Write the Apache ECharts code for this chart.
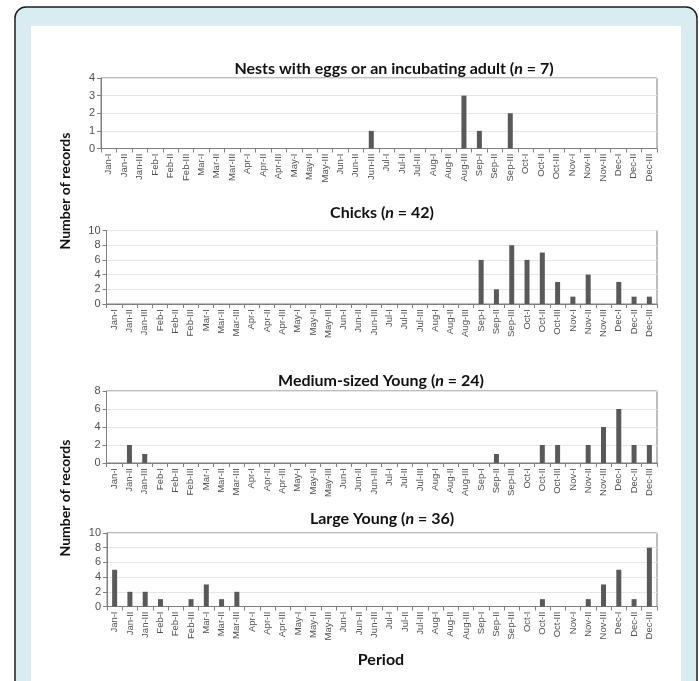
<!DOCTYPE html>
<html>
<head>
<meta charset="utf-8">
<script src="https://cdn.jsdelivr.net/npm/echarts@6/dist/echarts.min.js"></script>
<style>
  html, body { margin: 0; padding: 0; background: #ffffff; }
  #chart { width: 699px; height: 681px; }
</style>
</head>
<body>
<div id="chart"></div>
<script>
var categories = ['Jan-I','Jan-II','Jan-III','Feb-I','Feb-II','Feb-III','Mar-I','Mar-II','Mar-III',
  'Apr-I','Apr-II','Apr-III','May-I','May-II','May-III','Jun-I','Jun-II','Jun-III',
  'Jul-I','Jul-II','Jul-III','Aug-I','Aug-II','Aug-III','Sep-I','Sep-II','Sep-III',
  'Oct-I','Oct-II','Oct-III','Nov-I','Nov-II','Nov-III','Dec-I','Dec-II','Dec-III'];

var nestsValues  = [0,0,0, 0,0,0, 0,0,0, 0,0,0, 0,0,0, 0,0,1, 0,0,0, 0,0,3, 1,0,2, 0,0,0, 0,0,0, 0,0,0];
var chicksValues = [0,0,0, 0,0,0, 0,0,0, 0,0,0, 0,0,0, 0,0,0, 0,0,0, 0,0,0, 6,2,8, 6,7,3, 1,4,0, 3,1,1];
var mediumValues = [0,2,1, 0,0,0, 0,0,0, 0,0,0, 0,0,0, 0,0,0, 0,0,0, 0,0,0, 0,1,0, 0,2,2, 0,2,4, 6,2,2];
var largeValues  = [5,2,2, 1,0,1, 3,1,2, 0,0,0, 0,0,0, 0,0,0, 0,0,0, 0,0,0, 0,0,0, 0,1,0, 0,1,3, 5,1,8];

var panelTitles = [
  ['Nests with eggs or an incubating adult (', ' = 7)'],
  ['Chicks (', ' = 42)'],
  ['Medium-sized Young (', ' = 24)'],
  ['Large Young (', ' = 36)']
];
var yMax = [4, 10, 8, 10];
var yInterval = [1, 2, 2, 2];
var yAxisName = 'Number of records';
var xAxisName = 'Period';

var seriesValues = [nestsValues, chicksValues, mediumValues, largeValues];

var grids = [
  {left: 101, top: 78, width: 556, height: 70.5},
  {left: 106.5, top: 230.5, width: 550.5, height: 73.5},
  {left: 106.5, top: 391, width: 550.5, height: 72},
  {left: 107, top: 533, width: 550, height: 73.5}
];
var titlePos = [{x: 389, y: 56}, {x: 377, y: 200}, {x: 376, y: 368}, {x: 377, y: 506}];

var axisColor = '#7f7f7f';
var labelColor = '#505050';
var fontFam = "'Liberation Sans Narrow', 'Liberation Sans', Arial, sans-serif";
var titleFont = "Lato, 'Open Sans', sans-serif";

var option = {
  animation: false,
  backgroundColor: '#ffffff',
  title: panelTitles.map(function (t, i) {
    return {
      text: '{b|' + t[0] + '}{i|n}{b|' + t[1] + '}',
      left: titlePos[i].x,
      top: titlePos[i].y,
      textAlign: 'center',
      textStyle: {
        rich: {
          b: {fontFamily: titleFont, fontWeight: 'bold', fontSize: 16, color: '#111111'},
          i: {fontFamily: titleFont, fontWeight: 'bold', fontStyle: 'italic', fontSize: 16, color: '#111111'}
        }
      }
    };
  }),
  grid: grids.map(function (g) {
    return {left: g.left, top: g.top, width: g.width, height: g.height,
      show: true, borderColor: axisColor, borderWidth: 1, backgroundColor: 'transparent'};
  }),
  xAxis: grids.map(function (g, i) {
    return {
      type: 'category', gridIndex: i, data: categories,
      axisLine: {show: true, lineStyle: {color: axisColor, width: 1}},
      axisTick: {show: true, length: 4, inside: false, lineStyle: {color: axisColor}},
      axisLabel: {rotate: 90, interval: 0, margin: 5, fontSize: 9.5, color: labelColor, fontFamily: fontFam},
      splitLine: {show: false}
    };
  }),
  yAxis: grids.map(function (g, i) {
    return {
      type: 'value', gridIndex: i, min: 0, max: yMax[i], interval: yInterval[i],
      axisLine: {show: true, lineStyle: {color: axisColor, width: 1}},
      axisTick: {show: true, length: 4, lineStyle: {color: axisColor}},
      axisLabel: {fontSize: 11, color: labelColor, margin: 6, fontFamily: fontFam},
      splitLine: {show: true, lineStyle: {color: '#e6e6e6', width: 1}}
    };
  }),
  series: seriesValues.map(function (vals, i) {
    return {
      type: 'bar', xAxisIndex: i, yAxisIndex: i, data: vals,
      barWidth: 5,
      itemStyle: {color: '#595959'}
    };
  }),
  graphic: [
    {type: 'rect', z: -10, shape: {x: 15, y: 7, width: 682, height: 700, r: 11},
      style: {fill: '#d8ecf1', stroke: '#1e1e1e', lineWidth: 1.5}},
    {type: 'rect', z: -9, shape: {x: 31, y: 26, width: 650, height: 700},
      style: {fill: '#ffffff'}},
    {type: 'text', x: 65, y: 191, rotation: Math.PI / 2, z: 10,
      style: {text: yAxisName, fontSize: 14, fontWeight: 'bold', fontFamily: titleFont, fill: '#111111',
        textAlign: 'center', textVerticalAlign: 'middle'}},
    {type: 'text', x: 65, y: 498, rotation: Math.PI / 2, z: 10,
      style: {text: yAxisName, fontSize: 14, fontWeight: 'bold', fontFamily: titleFont, fill: '#111111',
        textAlign: 'center', textVerticalAlign: 'middle'}},
    {type: 'text', x: 381, y: 660, z: 10,
      style: {text: xAxisName, fontSize: 16, fontWeight: 'bold', fontFamily: titleFont, fill: '#111111',
        textAlign: 'center', textVerticalAlign: 'middle'}}
  ]
};

var chart = echarts.init(document.getElementById('chart'), null, {renderer: 'canvas'});
chart.setOption(option);
</script>
</body>
</html>
